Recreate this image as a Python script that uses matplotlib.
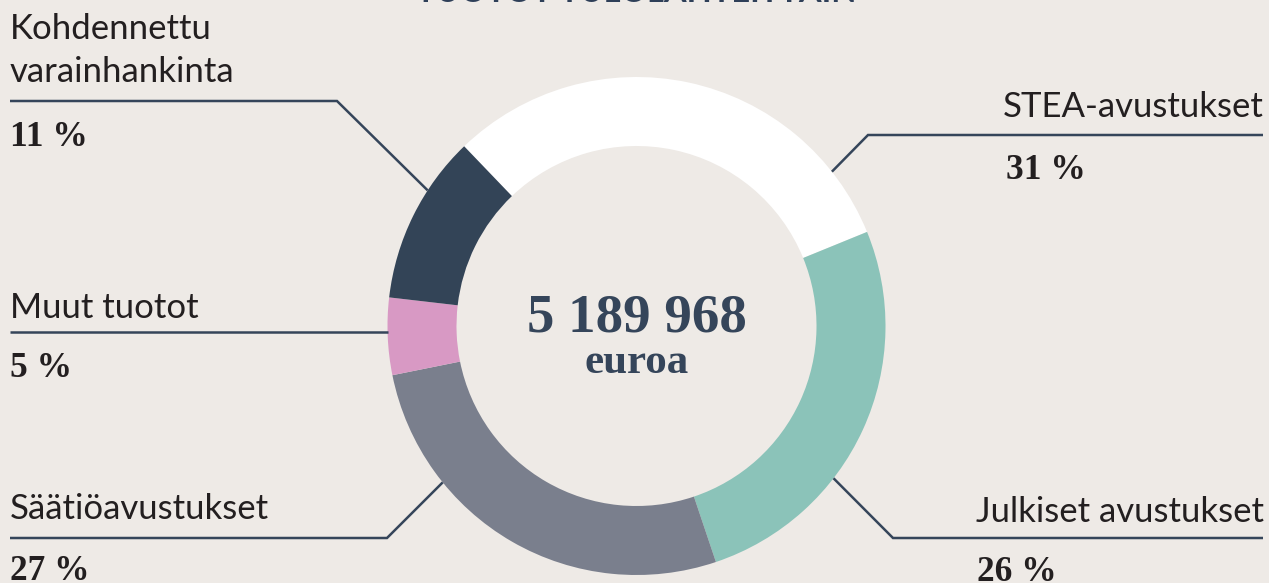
import numpy as np
import matplotlib
matplotlib.use('Agg')
import matplotlib.pyplot as plt

# data
labels = ['STEA-avustukset', 'Julkiset avustukset', 'Säätiöavustukset',
          'Muut tuotot', 'Kohdennettu\nvarainhankinta']
shares = [31, 26, 27, 5, 11]
colors = ['#FFFFFF', '#8BC3B9', '#7A7F8D', '#D899C4', '#334457']
total_text = '5 189 968'
unit_text = 'euroa'
title = 'TUOTOT TULOLÄHTEITTÄIN'

BG = '#EEEAE6'
NAVY = '#35455A'
INK = '#231F20'
W, H = 1269, 583
cx, cy = 636.5, 257
R, WIDTH = 249, 69

fig = plt.figure(figsize=(W / 100, H / 100), dpi=100, facecolor=BG)
ax = fig.add_axes([0, 0, 1, 1])
ax.set_facecolor(BG)

ax.pie(shares, colors=colors, startangle=133.8, counterclock=False,
       radius=R, center=(cx, cy),
       wedgeprops=dict(width=WIDTH, edgecolor='none', linewidth=0))
ax.set_xlim(0, W)
ax.set_ylim(0, H)
ax.set_aspect('equal')
ax.axis('off')

# leader lines: (angle on ring, elbow point, far end x), text layout
layout = {
    'Kohdennettu\nvarainhankinta': dict(ang=147, elbow=(337, 482), end=10,
                                        lab=(10, 544), pct=(10, 437), ha='left'),
    'Muut tuotot': dict(ang=181.4, elbow=None, end=10,
                        lab=(10, 265), pct=(10, 206), ha='left'),
    'Säätiöavustukset': dict(ang=218.9, elbow=(387, 45), end=10,
                             lab=(10, 64), pct=(10, 3), ha='left'),
    'STEA-avustukset': dict(ang=38.3, elbow=(868, 448), end=1263,
                            lab=(1264, 466), pct=(1006, 404), ha='right'),
    'Julkiset avustukset': dict(ang=-37.7, elbow=(893, 45), end=1263,
                                lab=(1264, 61), pct=(977, 2), ha='right'),
}

for name, share in zip(labels, shares):
    lay = layout[name]
    a = np.deg2rad(lay['ang'])
    ax_, ay_ = cx + R * np.cos(a), cy + R * np.sin(a)
    if lay['elbow'] is None:
        xs, ys = [ax_, lay['end']], [ay_, ay_]
    else:
        ex, ey = lay['elbow']
        xs, ys = [ax_, ex, lay['end']], [ay_, ey, ey]
    ax.plot(xs, ys, color=NAVY, lw=1.8, solid_capstyle='butt',
            solid_joinstyle='miter')

    lx, ly = lay['lab']
    for i, line in enumerate(name.split('\n')):
        ax.text(lx, ly - i * 43, line, ha=lay['ha'], va='baseline',
                fontsize=25, family='Lato', color=INK)
    px, py = lay['pct']
    ax.text(px, py, '%d %%' % share, ha='left', va='baseline',
            fontsize=25.5, family='Liberation Serif',
            fontweight='bold', color=INK)

ax.text(cx, 251, total_text, ha='center', va='baseline', fontsize=39.5,
        family='Liberation Serif', fontweight='bold', color=NAVY)
ax.text(cx, 210, unit_text, ha='center', va='baseline', fontsize=31,
        family='Liberation Serif', fontweight='bold', color=NAVY)

ax.text(cx, 581, title, ha='center', va='baseline', fontsize=23.5,
        family='Lato', fontweight='bold', color='#2E3F58')

fig.savefig('out.png', dpi=100, facecolor=BG)
